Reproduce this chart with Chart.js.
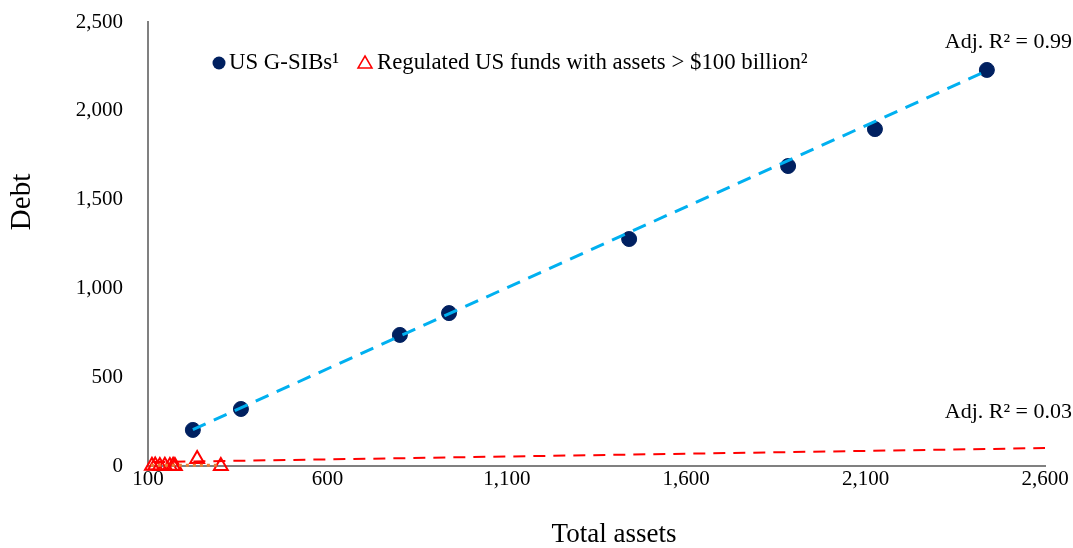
<!DOCTYPE html>
<html>
<head>
<meta charset="utf-8">
<script src="https://cdn.jsdelivr.net/npm/chart.js@4/dist/chart.umd.min.js"></script>
<style>
  html, body { margin: 0; padding: 0; background: #fff; }
  #wrap { width: 1073px; height: 548px; }
</style>
</head>
<body>
<div id="wrap"><canvas id="myChart"></canvas></div>
<script>
// US G-SIBs (total assets, debt)
const gsibAssets = [225, 359, 802, 939, 1441, 1884, 2126, 2438];
const gsibDebt   = [203, 321, 738, 861, 1278, 1689, 1897, 2230];

// Regulated US funds with assets > $100 billion
const fundAssets = [111, 120, 133, 147, 161, 170, 175, 237, 303];
const fundDebt   = [1, 3, 0, 2, 0, 2, 0, 39, 0];

// trendlines, end points
const gsibTrendX = [225, 2438];
const gsibTrendY = [205, 2225];
const fundTrendX = [115, 2600];
const fundTrendY = [22, 101];
const fundFitX   = [108, 303];
const fundFitY   = [4, 4];

const xTicks = [100, 600, 1100, 1600, 2100, 2600];
const yTicks = [0, 500, 1000, 1500, 2000, 2500];

const labels = ['US G-SIBs\u00B9', 'Regulated US funds with assets > $100 billion\u00B2'];
const notes = ['Adj. R\u00B2 = 0.99', 'Adj. R\u00B2 = 0.03'];
const xTitulo = 'Total assets';
const yTitulo = 'Debt';

const serif = '"Liberation Serif", "DejaVu Serif", serif';

function pares(xs, ys){
    let out = [];
    for(var i = 0; i < xs.length; i++){
        out.push({x: xs[i], y: ys[i]});
    }
    return out;
}

// legend, axis titles and R2 notes drawn on the canvas
const notasPlugin = {
    id: 'notas',
    afterDraw(chart){
        const ctx = chart.ctx;
        ctx.save();
        ctx.textBaseline = 'middle';

        // legend
        ctx.font = '22.8px ' + serif;
        ctx.beginPath();
        ctx.arc(219, 63, 6.5, 0, Math.PI * 2);
        ctx.fillStyle = '#002060';
        ctx.fill();
        ctx.fillStyle = '#000';
        ctx.textAlign = 'left';
        ctx.fillText(labels[0], 229, 63);

        ctx.beginPath();
        ctx.moveTo(365, 56);
        ctx.lineTo(372, 68);
        ctx.lineTo(358, 68);
        ctx.closePath();
        ctx.strokeStyle = '#FF0000';
        ctx.lineWidth = 1.5;
        ctx.stroke();
        ctx.fillText(labels[1], 377, 63);

        // R2 notes
        ctx.font = '22px ' + serif;
        ctx.textAlign = 'right';
        ctx.fillText(notes[0], 1072, 42);
        ctx.fillText(notes[1], 1072, 412);

        // axis titles
        ctx.textAlign = 'center';
        ctx.font = '27px ' + serif;
        ctx.fillText(xTitulo, 614, 535);
        ctx.translate(22, 202);
        ctx.rotate(-Math.PI / 2);
        ctx.font = '29px ' + serif;
        ctx.fillText(yTitulo, 0, 0);
        ctx.restore();
    }
};

let ctx = document.getElementById('myChart');
let myChart = new Chart(ctx, {
    type: 'scatter',
    data: {
        datasets: [
            {
                label: 'gsib',
                data: pares(gsibAssets, gsibDebt),
                pointRadius: 7.5,
                pointBackgroundColor: '#002060',
                pointBorderColor: '#002060',
                pointBorderWidth: 1,
                order: 3
            },
            {
                label: 'funds',
                data: pares(fundAssets, fundDebt),
                pointStyle: 'triangle',
                pointRadius: 8,
                pointBackgroundColor: 'rgba(0,0,0,0)',
                pointBorderColor: '#FF0000',
                pointBorderWidth: 2,
                clip: false,
                order: 1
            },
            {
                label: 'gsibTrend',
                type: 'line',
                data: pares(gsibTrendX, gsibTrendY),
                borderColor: '#00B0F0',
                borderWidth: 3,
                borderDash: [14, 9],
                pointRadius: 0,
                fill: false,
                order: 2
            },
            {
                label: 'fundTrend',
                type: 'line',
                data: pares(fundTrendX, fundTrendY),
                borderColor: '#FF0000',
                borderWidth: 2,
                borderDash: [12, 8],
                pointRadius: 0,
                fill: false,
                order: 2
            },
            {
                label: 'fundFit',
                type: 'line',
                data: pares(fundFitX, fundFitY),
                borderColor: '#ED7D31',
                borderWidth: 3,
                borderDash: [3, 4],
                pointRadius: 0,
                fill: false,
                clip: false,
                order: 0
            }
        ]
    },
    options: {
        responsive: true,
        maintainAspectRatio: false,
        animation: false,
        layout: { padding: { top: 22, right: 28, left: 0, bottom: 0 } },
        plugins: {
            legend: { display: false },
            tooltip: { enabled: false }
        },
        scales: {
            x: {
                type: 'linear',
                min: xTicks[0],
                max: xTicks[xTicks.length - 1],
                afterBuildTicks: function(axis){ axis.ticks = xTicks.map(v => ({value: v})); },
                afterFit: function(axis){
                    axis.height = 82;
                    axis.paddingLeft = 0;
                    axis.paddingRight = 0;
                },
                grid: { display: false, drawTicks: false },
                border: { display: true, color: '#808080', width: 2 },
                ticks: { color: '#000', font: { family: serif, size: 21 }, padding: 1 }
            },
            y: {
                type: 'linear',
                min: yTicks[0],
                max: yTicks[yTicks.length - 1],
                afterBuildTicks: function(axis){ axis.ticks = yTicks.map(v => ({value: v})); },
                afterFit: function(axis){
                    axis.width = 148;
                    axis.paddingTop = 0;
                    axis.paddingBottom = 0;
                },
                grid: { display: false, drawTicks: false },
                border: { display: true, color: '#808080', width: 2 },
                ticks: { color: '#000', font: { family: serif, size: 21 }, padding: 25 }
            }
        }
    },
    plugins: [notasPlugin]
});
</script>
</body>
</html>
